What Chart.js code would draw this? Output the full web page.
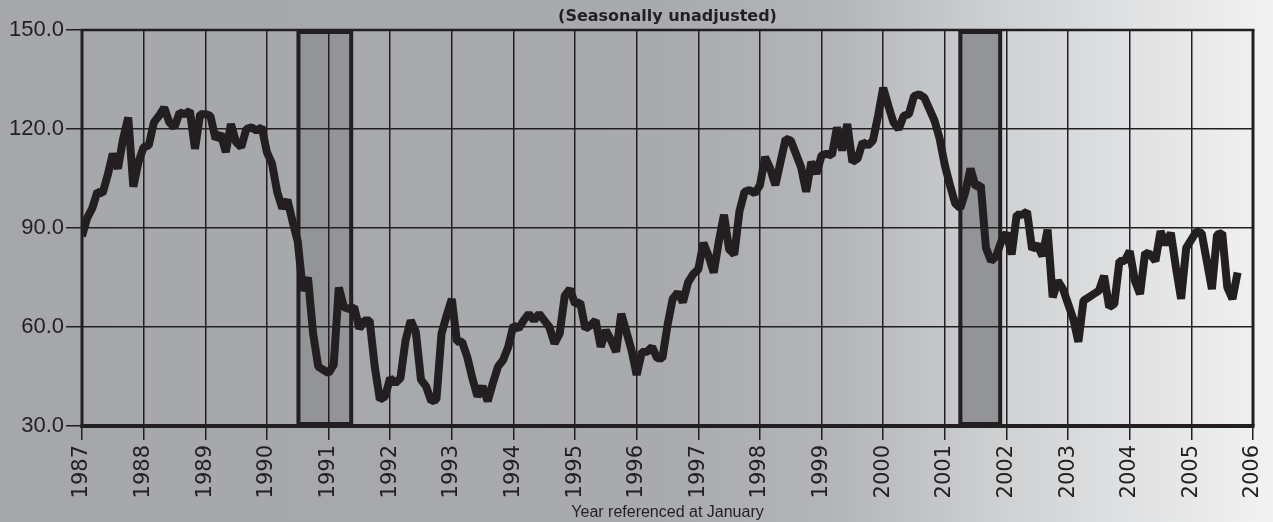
<!DOCTYPE html>
<html>
<head>
<meta charset="utf-8">
<script src="https://cdn.jsdelivr.net/npm/chart.js@4.4.0/dist/chart.umd.min.js"></script>
<style>
  html, body { margin:0; padding:0; background:#a8a9ad; }
  #wrap { width:1273px; height:522px; }
</style>
</head>
<body>
<div id="wrap"><canvas id="chart" width="1273" height="522"></canvas></div>
<script>
// ===== DATA (monthly, Jan 1987 - Oct 2005) =====
const firstYear = 1987;
const v1987 = [87.5,93,96,101,100.5,106,112.5,108,117,123.5,102.5,110];
const v1988 = [114.5,115,122,124,126.5,122,120.5,125,124.5,125.5,114,124.5];
const v1989 = [124.5,124,117,118.5,113,121.5,116,114.5,120,120.5,119.5,120.5];
const v1990 = [113,109.5,101,96,98.5,92,86,71,75,58,48,47];
const v1991 = [46,48.5,72,66,65.5,66,59.5,62,62,48,38,39];
const v1992 = [44.5,43,44.5,56,62,58.5,44,42,37.5,38,58,63.5];
const v1993 = [68.5,55.6,55.5,51,44.5,39,42,37.5,43,48,50,54];
const v1994 = [60.5,59.5,62,64,62,64,62,60,55,58,69.5,71.5];
const v1995 = [67,67.5,59.5,60.5,62,54,59,56,52.5,64,58.5,53];
const v1996 = [45.5,52.4,52.5,54,50.5,50.5,60.5,68.5,70.5,67.5,73.5,76];
const v1997 = [77.5,85.5,81.5,76.5,86,94,83.5,82,95,101,101.5,100.5];
const v1998 = [103,111.5,108,103,110,117,116.5,112.5,108.5,101,110,106.5];
const v1999 = [112,112.5,112,120.5,113.5,121.5,110,111,116,115,116.5,124];
const v2000 = [132.5,127,122,120,124,124.5,130,130.5,129.5,126,122.5,117];
const v2001 = [109,103,97.5,96,101,108,102.5,103,84,80,81.5,86];
const v2002 = [88.5,82,94,94,95,83.5,85,81.5,89.5,69,74,71.5];
const v2003 = [67,62.5,55.5,68,69,70,71,75.5,66,67,80,80];
const v2004 = [83,74,70,82.5,82,80,89,85,88.5,78,68.5,84];
const v2005 = [86.5,89,88.5,80,71.5,88,88.5,72,68.5,76.5];

// recession bands (decimal years)
const recStart = [1990.48, 2001.22];
const recEnd   = [1991.4, 2001.93];

const yTicks = [30, 60, 90, 120, 150];
const titleText = '(Seasonally unadjusted)';
const xTitle = 'Year referenced at January';

const INK = '#231f20';

const allYears = [v1987,v1988,v1989,v1990,v1991,v1992,v1993,v1994,v1995,v1996,
                  v1997,v1998,v1999,v2000,v2001,v2002,v2003,v2004,v2005];
const points = [];
allYears.forEach((arr, yi) => {
  arr.forEach((v, m) => points.push({ x: firstYear + yi + m/12, y: v }));
});

// ===== PLUGIN: background, bands, frame, title =====
const decor = {
  id: 'decor',
  beforeDraw(chart){
    const { ctx, width, height, chartArea:a, scales:{x} } = chart;
    const g = ctx.createLinearGradient(0, 0, width, 0);
    g.addColorStop(0, '#a6a7ab');
    g.addColorStop(0.52, '#a9aaae');
    g.addColorStop(0.66, '#b5b6b9');
    g.addColorStop(0.79, '#d0d1d3');
    g.addColorStop(0.90, '#e2e3e4');
    g.addColorStop(1, '#f2f2f2');
    ctx.save();
    ctx.fillStyle = g;
    ctx.fillRect(0, 0, width, height);
    ctx.fillStyle = '#939498';
    recStart.forEach((s, i) => {
      const x0 = x.getPixelForValue(s), x1 = x.getPixelForValue(recEnd[i]);
      ctx.fillRect(x0, a.top, x1 - x0, a.bottom - a.top);
    });
    ctx.restore();
  },
  beforeDatasetsDraw(chart){
    const { ctx, chartArea:a, scales:{x} } = chart;
    ctx.save();
    ctx.strokeStyle = INK;
    ctx.lineWidth = 4;
    recStart.forEach((s, i) => {
      const x0 = x.getPixelForValue(s), x1 = x.getPixelForValue(recEnd[i]);
      ctx.strokeRect(x0 + 2, a.top + 2, x1 - x0 - 4, a.bottom - a.top - 4);
    });
    // frame
    const line = (x0,y0,x1,y1,w) => {
      ctx.lineWidth = w; ctx.beginPath(); ctx.moveTo(x0,y0); ctx.lineTo(x1,y1); ctx.stroke();
    };
    line(a.left - 1, a.top, a.right + 1.5, a.top, 2.5);
    line(a.right, a.top, a.right, a.bottom, 3);
    line(a.left, a.top, a.left, a.bottom + 2, 3);
    line(a.left - 1.5, a.bottom, a.right + 1.5, a.bottom, 4);
    ctx.restore();
  },
  afterDraw(chart){
    const { ctx, chartArea:a } = chart;
    ctx.save();
    ctx.fillStyle = INK;
    ctx.font = 'bold 16px "DejaVu Sans"';
    ctx.textAlign = 'center';
    ctx.textBaseline = 'middle';
    ctx.fillText(titleText, (a.left + a.right) / 2, 17);
    ctx.restore();
  }
};

// ===== CHART =====
new Chart(document.getElementById('chart'), {
  type: 'line',
  data: {
    datasets: [{
      data: points,
      borderColor: INK,
      borderWidth: 8,
      pointRadius: 0,
      tension: 0,
      borderJoinStyle: 'bevel',
      fill: false
    }]
  },
  options: {
    responsive: false,
    animation: false,
    events: [],
    layout: { padding: { top: 30, right: 20, left: 0, bottom: 0 } },
    plugins: { legend: { display: false }, tooltip: { enabled: false } },
    scales: {
      x: {
        type: 'linear',
        min: 1987, max: 2006,
        afterFit: s => { s.height = 96; s.paddingLeft = 0; s.paddingRight = 0; },
        border: { display: false },
        grid: { color: INK, lineWidth: 1.5, tickLength: 14, tickColor: INK },
        ticks: {
          stepSize: 1, autoSkip: false, minRotation: 90, maxRotation: 90,
          padding: 5, color: INK,
          font: { family: '"DejaVu Sans"', size: 21 },
          callback: v => String(v)
        },
        title: {
          display: true, text: xTitle, color: INK,
          font: { family: '"Liberation Sans"', size: 16 },
          padding: { top: 0, bottom: 0 }
        }
      },
      y: {
        min: 30, max: 150,
        afterFit: s => { s.width = 82; s.paddingTop = 0; s.paddingBottom = 0; },
        afterBuildTicks: s => { s.ticks = yTicks.map(v => ({ value: v })); },
        border: { display: false },
        grid: { color: INK, lineWidth: 1.5, tickLength: 16, tickColor: INK },
        ticks: {
          padding: 2, color: INK,
          font: { family: '"Liberation Sans"', size: 22 },
          callback: v => v.toFixed(1)
        }
      }
    }
  },
  plugins: [decor]
});
</script>
</body>
</html>
